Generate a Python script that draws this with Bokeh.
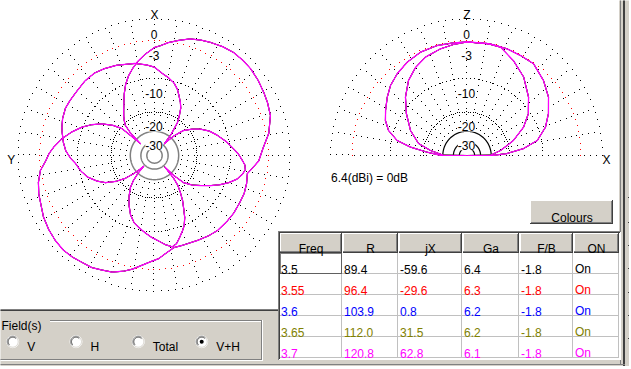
import numpy as np
from bokeh.plotting import figure
from bokeh.models import Range1d
from bokeh.embed import file_html
from bokeh.resources import INLINE
from bokeh.core.properties import value

# ------------------------------------------------------------------ data
freq_mhz = ["3.5", "3.55", "3.6", "3.65", "3.7"]
r_ohm = ["89.4", "96.4", "103.9", "112.0", "120.8"]
jx_ohm = ["-59.6", "-29.6", "0.8", "31.5", "62.8"]
ga_dbi = ["6.4", "6.3", "6.2", "6.2", "6.1"]
fb_db = ["-1.8", "-1.8", "-1.8", "-1.8", "-1.8"]
on_flag = ["On", "On", "On", "On", "On"]
freq_colors = ["#000000", "#ff0000", "#0000ff", "#808000", "#ff00ff"]
table_headers = ["Freq", "R", "jX", "Ga", "F/B", "ON"]

scale_db = [0, -3, -10, -20, -30]
scale_text = ["0", "-3", "-10", "-20", "-30"]
dotted_db = [0, -10, -20]
red_db = [-3]
solid_db = [-30, -40, -50]

# horizontal plane pattern: azimuth in degrees from X towards Y, level in dB
hor_az_a = [0, 5, 10, 14, 18, 22, 26, 30, 34, 38, 41, 44, 47, 49.7, 50.4, 54, 58.8, 64, 68.6, 74,
            79.7, 85, 89, 92.6, 97.5, 103, 108.3, 114, 119, 125, 130.6, 136, 141, 146, 150.8, 155,
            160, 165, 169, 174, 178, 182.4, 186, 192, 197, 207, 214, 220, 227, 234, 241, 247, 253,
            259, 263, 267, 273.7, 281, 289, 295, 300, 306, 312, 317, 322.5, 328, 333.6, 338, 343,
            348, 353, 357, 360]
hor_db_a = [-4.0, -5.0, -6.1, -7.2, -8.4, -9.9, -11.8, -13.9, -15.7, -17.4, -18.8, -20.4, -24.9,
            -35.1, -20.4, -17.0, -13.9, -11.5, -9.7, -8.0, -6.4, -5.2, -4.4, -3.9, -2.9, -2.3, -1.9,
            -1.6, -1.2, -0.9, -0.7, -0.6, -0.7, -0.9, -1.0, -1.3, -1.6, -2.2, -2.8, -3.7, -4.3, -4.8,
            -5.5, -6.4, -6.4, -6.2, -5.9, -5.7, -5.7, -5.7, -5.8, -5.8, -6.0, -6.3, -5.5, -4.6, -3.9,
            -2.7, -1.8, -1.5, -1.3, -1.05, -0.85, -0.8, -0.8, -1.0, -1.3, -1.55, -1.9, -2.5, -3.1,
            -3.7, -4.0]
hor_az_b = [0, 5, 12, 18, 23, 30, 36, 43, 51, 57, 62, 68, 73, 76, 82, 87, 92, 96, 102, 108, 114,
            119, 124, 128, 131, 133, 135, 137, 140, 143, 148, 153, 158, 163, 168, 173, 178, 183,
            187, 191, 194, 197, 200, 203, 206, 209, 212, 215, 218, 220, 222, 224, 227, 232, 237,
            242, 246, 250, 254, 258, 261, 264, 267, 271, 275, 281, 288, 294, 300, 305, 311, 315,
            318, 320, 322, 325, 328, 331, 334, 338, 341, 345, 350, 354, 357, 360]
hor_db_b = [-7.5, -7.0, -6.4, -6.1, -5.7, -5.3, -5.0, -5.0, -5.2, -5.2, -5.2, -5.5, -5.9, -6.2,
            -6.8, -7.4, -8.4, -9.4, -10.3, -11.5, -13.4, -15.4, -18.8, -22.6, -27.5, -32.5, -38.3,
            -30.1, -24.6, -21.3, -18.1, -15.4, -13.1, -11.5, -10.6, -9.7, -8.8, -8.0, -7.2, -6.6,
            -7.0, -8.0, -9.0, -10.1, -11.8, -14.2, -16.4, -19.2, -22.2, -26.3, -38.3, -27.5, -21.3,
            -18.1, -15.7, -13.1, -11.1, -9.4, -8.0, -7.2, -6.8, -7.0, -7.6, -8.4, -9.4, -10.8,
            -12.6, -14.2, -16.4, -18.8, -22.2, -27.5, -33.3, -38.3, -28.0, -21.3, -18.5, -16.0,
            -14.5, -12.8, -11.5, -10.3, -9.4, -8.8, -8.2, -7.5]

# vertical plane pattern: elevation in degrees (0 = +X horizon, 90 = zenith, 180 = -X)
ver_el_a = [0, 0.5, 2.8, 7, 12, 19.8, 27.3, 35.6, 44.4, 54, 61.8, 69.4, 78, 90, 96.8, 105.2,
            114.2, 122.7, 130.5, 137.5, 143.8, 151, 156.8, 162.3, 167.9, 171.6, 175.3, 179.5, 180]
ver_db_a = [-99, -28.4, -21.3, -15.1, -11.1, -8.5, -6.85, -5.3, -4.15, -3.17, -3.16, -3.07, -3.07,
            -3.14, -3.14, -3.07, -3.17, -3.56, -4.09, -4.71, -5.55, -6.58, -7.42, -8.7, -11.2,
            -15.1, -21.3, -28.4, -99]
ver_el_b = [0, 0.5, 8.5, 17.9, 26.6, 34.3, 43.5, 54.2, 63.9, 72.8, 80, 90, 96.9, 103.9, 112.9,
            120.3, 127.9, 136.5, 145.2, 156.1, 166.1, 172.2, 179.5, 180]
ver_db_b = [-99, -30.5, -24.1, -17.8, -13.3, -10.5, -8.2, -5.9, -4.4, -3.16, -3.1, -3.14, -3.4,
            -3.7, -4.2, -5.0, -6.2, -8.2, -10.6, -13.7, -17.4, -22.7, -30.5, -99]

field_options = ["V", "H", "Total", "V+H"]
field_selected = [False, False, False, True]
gain_note = "6.4(dBi) = 0dB"
hor_axis_labels = ["X", "Y"]
ver_axis_labels = ["Z", "X"]
button_label = "Colours"
group_label = "Field(s)"

# ------------------------------------------------------------------ layout / style
W, H = 629, 366
R0 = 136.0
CXL, CYL = 154.0, 155.0
CXR, CYR = 466.5, 155.0
FONT = value("Liberation Sans")
FS = "12px"
GRAY = "#d4d0c8"
DARK = "#808080"
DARKER = "#404040"
HALF = 0.5  # Bokeh draws with a half-pixel offset; fills are shifted back by this


def rad(db):
    return R0 * 10 ** (np.asarray(db, dtype=float) / 40.0)


def hor_xy(az, db):
    a = np.radians(np.asarray(az, dtype=float))
    r = rad(db)
    return CXL - r * np.sin(a), CYL - r * np.cos(a)


def ver_xy(el, db):
    a = np.radians(np.asarray(el, dtype=float))
    r = rad(db)
    return CXR + r * np.cos(a), CYR - r * np.sin(a)


p = figure(width=W, height=H, x_range=Range1d(0, W), y_range=Range1d(H, 0),
           output_backend="svg", toolbar_location=None, min_border=0,
           x_axis_location=None, y_axis_location=None, title=None)
p.grid.visible = False
p.outline_line_color = None
p.background_fill_color = "white"
p.border_fill_color = "white"


def box(l, r, t, b, color):
    p.quad(left=[l - HALF], right=[r - HALF], top=[t - HALF], bottom=[b - HALF],
           fill_color=color, line_color=None)


def dots(xs, ys, color):
    x0 = np.floor(np.asarray(xs, dtype=float)) - HALF
    y0 = np.floor(np.asarray(ys, dtype=float)) - HALF
    p.quad(left=x0, right=x0 + 1, top=y0, bottom=y0 + 1, fill_color=color, line_color=None)


def hseg(row, x0, x1, color):
    p.segment(x0=[x0 - HALF], y0=[row], x1=[x1 - HALF], y1=[row], line_color=color, line_width=1)


def vseg(col, y0, y1, color):
    p.segment(x0=[col], y0=[y0 - HALF], x1=[col], y1=[y1 - HALF], line_color=color, line_width=1)


# ------------------------------------------------------------------ polar grids
def draw_grid(cx, cy, half):
    span = 180 if half else 360
    circ_ang = np.radians(np.arange(0, span + (1 if half else 0), 3))
    for db in dotted_db:
        r = rad(db)
        dots(cx + r * np.cos(circ_ang), cy - r * np.sin(circ_ang), "black")
    for db in red_db:
        r = rad(db)
        dots(cx + r * np.cos(circ_ang), cy - r * np.sin(circ_ang), "red")
    r_in, r_out = rad(-30), rad(0)
    radii = np.arange(r_in + 4, r_out, 6.0)
    spoke_ang = np.radians(np.arange(0, span + (1 if half else 0), 10))
    sx, sy = [], []
    for a in spoke_ang:
        sx.extend(cx + radii * np.cos(a))
        sy.extend(cy - radii * np.sin(a))
    dots(sx, sy, "black")
    fine = np.radians(np.linspace(0, span, 181))
    for db in solid_db:
        r = rad(db)
        p.line(cx + r * np.cos(fine), cy - r * np.sin(fine),
               line_color="black" if half else "#808080", line_width=1.2 if half else 1.5)


draw_grid(CXL, CYL, False)
draw_grid(CXR, CYR, True)

for cx in (CXL, CXR):
    ys = [CYL - rad(d) + 14.5 for d in scale_db]
    p.text(x=[cx - 0.5] * len(scale_db), y=ys, text=scale_text, text_font=FONT,
           text_font_size=FS, text_align="center", text_baseline="alphabetic",
           text_color="black", background_fill_color="white")

p.text(x=[CXL, 10.8], y=[14.5, 159.5], text=hor_axis_labels, text_font=FONT, text_font_size=FS,
       text_align="center", text_baseline="alphabetic", text_color="black")
p.text(x=[CXR, 606], y=[14.5, 159.5], text=ver_axis_labels, text_font=FONT, text_font_size=FS,
       text_align="center", text_baseline="alphabetic", text_color="black")
p.text(x=[330.5], y=[177], text=[gain_note], text_font=FONT, text_font_size=FS,
       text_align="left", text_baseline="alphabetic", text_color="black")

# ------------------------------------------------------------------ patterns (5 frequencies overlap)
for k, col in enumerate(freq_colors):
    lw = 1.25 if k == len(freq_colors) - 1 else 0.8
    for az, db in ((hor_az_a, hor_db_a), (hor_az_b, hor_db_b)):
        x, y = hor_xy(az, db)
        p.line(x, y, line_color=col, line_width=lw)
    for el, db in ((ver_el_a, ver_db_a), (ver_el_b, ver_db_b)):
        x, y = ver_xy(el, db)
        p.line(x, y, line_color=col, line_width=lw)

# ------------------------------------------------------------------ window chrome
box(0, 278, 310, 369, GRAY)
hseg(309, 0, 278, DARK)
hseg(310, 0, 278, DARKER)
box(262, 631, 358, 369, GRAY)
box(619, 631, 0, 369, GRAY)
vseg(620, 0, 365, DARK)
box(623, 625, 0, 366, DARKER)
tick_y = [197, 222, 245, 268, 292, 315, 338]
p.segment(x0=[627.5] * len(tick_y), y0=tick_y, x1=[631] * len(tick_y), y1=tick_y,
          line_color=DARKER, line_width=1)
hseg(364, 0, 625, DARK)

# group box
hseg(320, 50, 262, DARK)
hseg(321, 50, 261, "white")
vseg(261, 320, 360, DARK)
vseg(262, 320, 361, "white")
hseg(359, 0, 262, DARK)
hseg(360, 0, 263, "white")
p.text(x=[1], y=[325.5], text=[group_label], text_font=FONT, text_font_size=FS,
       text_align="left", text_baseline="alphabetic", text_color="black")

radio_x = [12.2, 75.5, 137.8, 201.2]
radio_y = 341.2
p.circle(x=radio_x, y=[radio_y] * 4, radius=6, fill_color="white", line_color="white",
         line_width=1)
arc_t = np.radians(np.linspace(45, 225, 40))
for rx in radio_x:
    p.line(rx + 5.5 * np.cos(arc_t), radio_y - 5.5 * np.sin(arc_t), line_color=DARK, line_width=1)
    p.line(rx + 4.5 * np.cos(arc_t), radio_y - 4.5 * np.sin(arc_t), line_color=DARKER,
           line_width=1)
    p.line(rx + 5.5 * np.cos(arc_t + np.pi), radio_y - 5.5 * np.sin(arc_t + np.pi),
           line_color=GRAY, line_width=1)
sel_x = [rx for rx, s in zip(radio_x, field_selected) if s]
p.circle(x=sel_x, y=[radio_y] * len(sel_x), radius=2, fill_color="black", line_color=None)
p.text(x=[rx + 14.5 for rx in radio_x], y=[346.5] * 4, text=field_options, text_font=FONT,
       text_font_size=FS, text_align="left", text_baseline="alphabetic", text_color="black")

# Colours button
box(530, 613, 200, 224, GRAY)
hseg(200, 530, 612, "white")
vseg(530, 200, 223, "white")
hseg(222, 531, 612, DARK)
vseg(611, 201, 223, DARK)
hseg(223, 530, 613, DARKER)
vseg(612, 200, 224, DARKER)
p.text(x=[571.5], y=[217.5], text=[button_label], text_font=FONT, text_font_size=FS,
       text_align="center", text_baseline="alphabetic", text_color="black")

# table
col_edges = [279, 342, 398, 462, 519, 573, 619]
hdr_top, hdr_bot = 233, 253
row_h = 21
n_rows = len(freq_mhz)
box(278, 621, 231, 360, "white")
hseg(231, 278, 621, DARK)
vseg(278, 231, 360, DARK)
hseg(232, 279, 620, DARKER)
vseg(279, 232, 359, DARKER)
lefts, rights = col_edges[:-1], col_edges[1:]
for l, r in zip(lefts, rights):
    box(l + 1, r, hdr_top, hdr_bot, GRAY)
    hseg(hdr_top, l + 1, r - 1, "white")
    vseg(l + 1, hdr_top, hdr_bot - 1, "white")
    vseg(r - 2, hdr_top + 1, hdr_bot - 1, DARK)
    vseg(r - 1, hdr_top, hdr_bot, DARKER)
    hseg(hdr_bot - 2, l + 1, r - 1, DARK)
    hseg(hdr_bot - 1, l + 1, r, DARKER)
p.text(x=[(l + r) / 2 for l, r in zip(lefts, rights)], y=[hdr_top + 15] * 6, text=table_headers,
       text_font=FONT, text_font_size=FS, text_align="center", text_baseline="alphabetic",
       text_color="black")
row_bottoms = [hdr_bot + (i + 1) * row_h for i in range(n_rows)]
for yb in row_bottoms:
    hseg(yb - 1, 280, 619, "#c0c0c0")
for xe in col_edges[1:]:
    vseg(xe - 1, hdr_bot, hdr_bot + n_rows * row_h, "#c0c0c0")
p.quad(left=[280], right=[341], top=[253], bottom=[273], fill_color=None,
       line_color="black", line_dash="1 1", line_width=1)

columns = [freq_mhz, r_ohm, jx_ohm, ga_dbi, fb_db, on_flag]
tx, ty, tt, tc = [], [], [], []
for ci, col in enumerate(columns):
    for ri, s in enumerate(col):
        tx.append(col_edges[ci] + 1.5)
        ty.append(hdr_bot + ri * row_h + 15.5)
        tt.append(s)
        tc.append(freq_colors[ri])
p.text(x=tx, y=ty, text=tt, text_color=tc, text_font=FONT, text_font_size=FS,
       text_align="left", text_baseline="alphabetic")

open("out.html", "w").write(file_html(p, INLINE))
